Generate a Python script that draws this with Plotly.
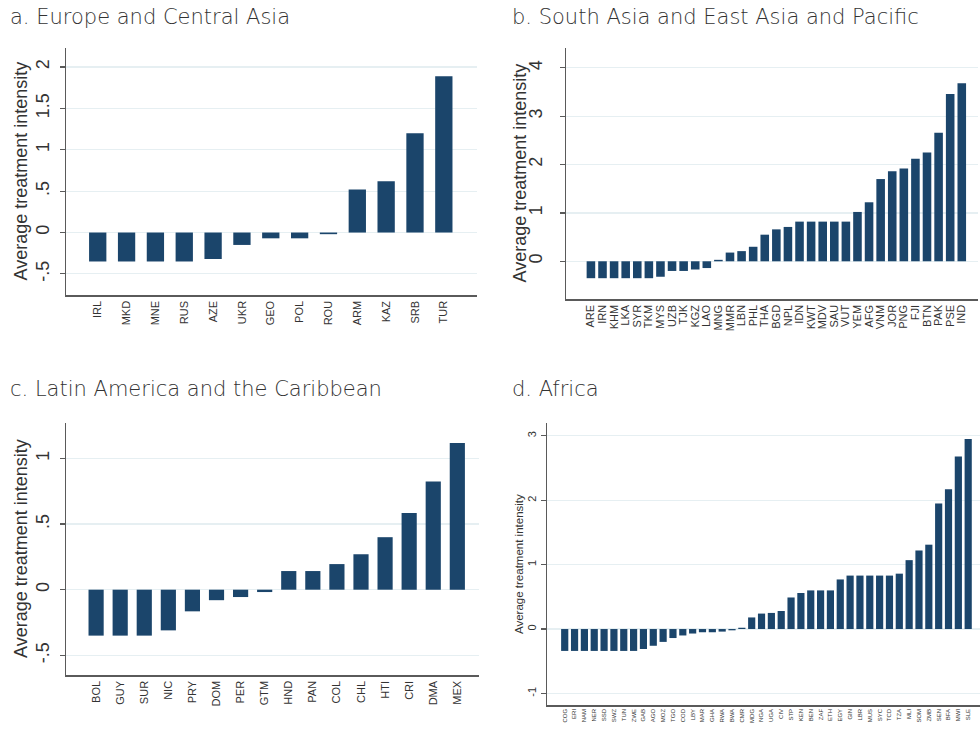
import plotly.graph_objects as go

# ---------------- data ----------------
eca_countries = ["IRL", "MKD", "MNE", "RUS", "AZE", "UKR", "GEO", "POL", "ROU", "ARM", "KAZ", "SRB", "TUR"]
eca_values = [-0.35, -0.35, -0.35, -0.35, -0.32, -0.15, -0.07, -0.07, -0.02, 0.52, 0.62, 1.20, 1.89]

sa_countries = ["ARE", "IRN", "KHM", "LKA", "SYR", "TKM", "MYS", "UZB", "TJK", "KGZ", "LAO", "MNG", "MMR",
                "LBN", "PHL", "THA", "BGD", "NPL", "IDN", "KWT", "MDV", "SAU", "VUT", "YEM", "AFG", "VNM",
                "JOR", "PNG", "FJI", "BTN", "PAK", "PSE", "IND"]
sa_values = [-0.35, -0.35, -0.35, -0.35, -0.35, -0.35, -0.32, -0.20, -0.20, -0.17, -0.14, 0.03, 0.18,
             0.21, 0.30, 0.55, 0.66, 0.71, 0.82, 0.82, 0.82, 0.82, 0.82, 1.02, 1.22, 1.70,
             1.86, 1.92, 2.12, 2.25, 2.66, 3.46, 3.68]

lac_countries = ["BOL", "GUY", "SUR", "NIC", "PRY", "DOM", "PER", "GTM", "HND", "PAN", "COL", "CHL", "HTI",
                 "CRI", "DMA", "MEX"]
lac_values = [-0.35, -0.35, -0.35, -0.31, -0.165, -0.08, -0.056, -0.018, 0.142, 0.142, 0.195, 0.27, 0.40,
              0.584, 0.825, 1.117]

afr_countries = ["COG", "ERI", "NAM", "NER", "SSD", "SWZ", "TUN", "ZWE", "GAB", "AGO", "MOZ", "TGO", "COD",
                 "LBY", "MAR", "GHA", "RWA", "BWA", "CMR", "MDG", "NGA", "UGA", "CIV", "STP", "KEN", "BEN",
                 "ZAF", "ETH", "EGY", "GIN", "LBR", "MUS", "SYC", "TCD", "TZA", "MLI", "SOM", "ZMB", "SEN",
                 "BFA", "MWI", "SLE"]
afr_values = [-0.34, -0.34, -0.34, -0.34, -0.34, -0.34, -0.34, -0.34, -0.31, -0.26, -0.20, -0.14, -0.10,
              -0.07, -0.05, -0.05, -0.04, -0.02, 0.02, 0.18, 0.24, 0.25, 0.28, 0.49, 0.56, 0.60,
              0.60, 0.60, 0.77, 0.83, 0.83, 0.83, 0.83, 0.83, 0.86, 1.07, 1.22, 1.31, 1.95,
              2.17, 2.68, 2.95]

panel_titles = ["a. Europe and Central Asia", "b. South Asia and East Asia and Pacific",
                "c. Latin America and the Caribbean", "d. Africa"]
y_title = "Average treatment intensity"

eca_ticks = [-0.5, 0, 0.5, 1, 1.5, 2]
eca_ticktext = ["-.5", "0", ".5", "1", "1.5", "2"]
sa_ticks = [0, 1, 2, 3, 4]
sa_ticktext = ["0", "1", "2", "3", "4"]
lac_ticks = [-0.5, 0, 0.5, 1]
lac_ticktext = ["-.5", "0", ".5", "1"]
afr_ticks = [-1, 0, 1, 2, 3]
afr_ticktext = ["-1", "0", "1", "2", "3"]

# ---------------- layout helpers ----------------
W, H = 980, 732
BAR = "#1b456b"
GRID = "#e6eff2"
AXIS = "#5a5a5a"
TXT = "#333333"
FONT = "Liberation Sans, Arial, sans-serif"


def xd(a, b):
    return [a / W, b / W]


def yd(top, bottom):
    return [1 - bottom / H, 1 - top / H]


panels = [
    dict(cats=eca_countries, vals=eca_values, ticks=eca_ticks, tt=eca_ticktext,
         xdom=xd(66, 477), ydom=yd(48, 295), yr=[-0.755, 2.23], xr=[-1.1, 13.15],
         width=0.6, xfs=11, yfs=18, tfs=18, title_x=21, ax="", stand=3),
    dict(cats=sa_countries, vals=sa_values, ticks=sa_ticks, tt=sa_ticktext,
         xdom=xd(566, 978), ydom=yd(48, 299), yr=[-0.78, 4.41], xr=[-2.15, 33.4],
         width=0.74, xfs=11, yfs=18, tfs=18, title_x=519, ax="2", stand=10),
    dict(cats=lac_countries, vals=lac_values, ticks=lac_ticks, tt=lac_ticktext,
         xdom=xd(66, 479), ydom=yd(423, 675), yr=[-0.65, 1.27], xr=[-1.25, 15.9],
         width=0.63, xfs=11, yfs=18, tfs=18, title_x=21, ax="3", stand=3),
    dict(cats=afr_countries, vals=afr_values, ticks=afr_ticks, tt=afr_ticktext,
         xdom=xd(547, 980), ydom=yd(423, 705), yr=[-1.18, 3.2], xr=[-1.8, 42.2],
         width=0.73, xfs=6, yfs=11, tfs=11.5, title_x=519, ax="4", stand=0),
]

fig = go.Figure()
layout = dict(
    width=W, height=H,
    margin=dict(l=0, r=0, t=0, b=0),
    paper_bgcolor="white", plot_bgcolor="white",
    showlegend=False,
    font=dict(family=FONT, color=TXT),
    annotations=[],
)

for p in panels:
    ax = p["ax"]
    fig.add_trace(go.Bar(
        x=p["cats"], y=p["vals"], width=p["width"],
        marker=dict(color=BAR, line=dict(width=0)),
        xaxis="x" + ax, yaxis="y" + ax,
    ))
    layout["xaxis" + ax] = dict(
        domain=p["xdom"], anchor="y" + ax, type="category", range=p["xr"],
        tickmode="array", tickvals=p["cats"], ticktext=p["cats"],
        showline=True, linecolor=AXIS, linewidth=1.5, showgrid=False, zeroline=False,
        ticks="", tickangle=-90, tickfont=dict(size=p["xfs"], family=FONT, color=TXT),
        fixedrange=True,
    )
    layout["yaxis" + ax] = dict(
        domain=p["ydom"], anchor="x" + ax, range=p["yr"],
        tickvals=p["ticks"], ticktext=p["tt"], tickangle=-90,
        tickfont=dict(size=p["yfs"], family=FONT, color=TXT),
        showline=True, linecolor=AXIS, linewidth=1.5,
        ticks="outside", ticklen=5, tickcolor=AXIS, tickwidth=1.2,
        ticklabelstandoff=p["stand"],
        showgrid=True, gridcolor=GRID, gridwidth=1.2, zeroline=False,
        fixedrange=True,
    )
    ymid = (p["ydom"][0] + p["ydom"][1]) / 2
    layout["annotations"].append(dict(
        text=y_title, textangle=-90, xref="paper", yref="paper",
        x=p["title_x"] / W, y=ymid, xanchor="center", yanchor="middle",
        showarrow=False, font=dict(size=p["tfs"], family=FONT, color=TXT),
    ))

title_pos = [(8, 17), (510, 17), (8, 389), (510, 389)]
for t, (tx, ty) in zip(panel_titles, title_pos):
    layout["annotations"].append(dict(
        text=t, xref="paper", yref="paper", x=tx / W, y=1 - ty / H,
        xanchor="left", yanchor="middle", showarrow=False,
        font=dict(size=21, family="DejaVu Sans, Open Sans, sans-serif", color=TXT, weight=200),
    ))

fig.update_layout(**layout)
fig.write_html(
    "out.html",
    config={"displayModeBar": False, "staticPlot": True},
    post_script="document.body.style.margin='0';document.body.style.overflow='hidden';",
)
